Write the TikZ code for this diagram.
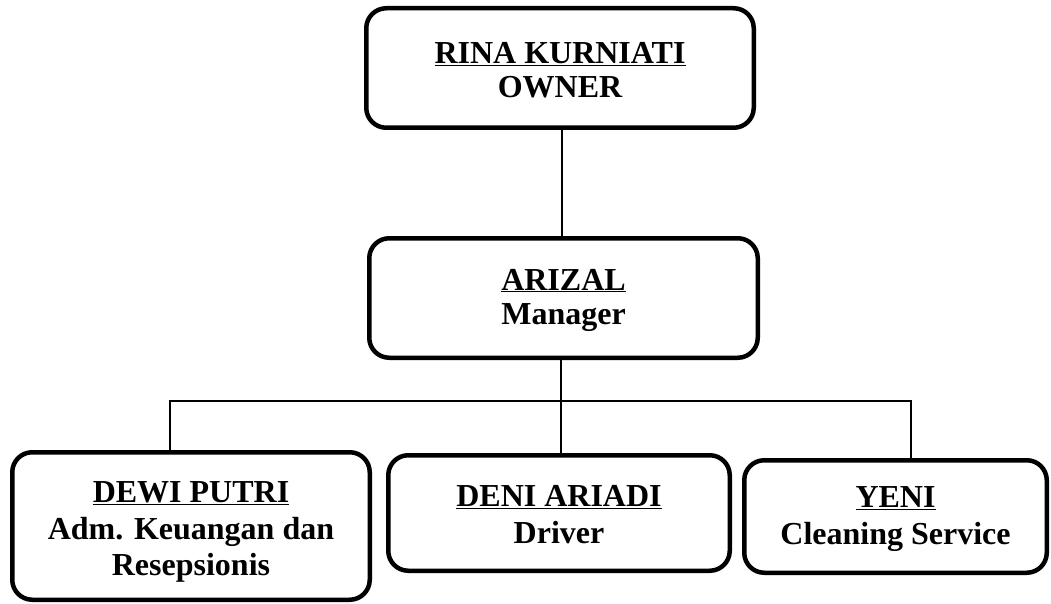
\documentclass[tikz,border=0pt]{standalone}
\usepackage{fontspec}
\setmainfont{Liberation Serif}
\begin{document}
\begin{tikzpicture}[x=1pt,y=-1pt,
  box/.style={draw=black,line width=4.5pt,rounded corners=20pt,inner sep=0pt},
  txt/.style={inner sep=0pt,align=center,font=\fontsize{32}{34}\selectfont\bfseries},
  txtb/.style={txt,font=\fontsize{32}{36.5}\selectfont\bfseries},
  conn/.style={draw=black,line width=1.5pt}]
\useasboundingbox (0,0) rectangle (1051,604);
\node[box,minimum width=387.5pt,minimum height=119.5pt] (owner) at (560,68) {};
\node[box,minimum width=388.5pt,minimum height=119.5pt] (mgr) at (563.5,298) {};
\node[box,minimum width=357.5pt,minimum height=147.5pt] (dewi) at (191,526) {};
\node[box,minimum width=341.5pt,minimum height=115.5pt] (deni) at (559,513) {};
\node[box,minimum width=302.5pt,minimum height=112.5pt] (yeni) at (895.5,516.5) {};
\node[txt,yshift=-2.5pt] (ownert) at (owner.center) {\underline{RINA KURNIATI}\\OWNER};
\node[txt,yshift=-2pt] (mgrt) at (mgr.center) {\underline{ARIZAL}\\Manager};
\node[txtb,yshift=-6pt] (dewit) at (dewi.center) {\underline{DEWI PUTRI}\\Adm. Keuangan dan\\Resepsionis};
\node[txtb,yshift=-1.5pt] (denit) at (deni.center) {\underline{DENI ARIADI}\\Driver};
\node[txtb,yshift=-2.5pt] (yenit) at (yeni.center) {\underline{YENI}\\Cleaning Service};
\coordinate (bus) at (561,401);
\draw[conn] (owner.south -| 562,0) -- (mgr.north -| 562,0);
\draw[conn] (mgr.south -| bus) -- (bus);
\draw[conn] (dewi.north -| 170,0) |- (bus);
\draw[conn] (yeni.north -| 911,0) |- (bus);
\draw[conn] (deni.north -| bus) -- (bus);
\end{tikzpicture}
\end{document}
